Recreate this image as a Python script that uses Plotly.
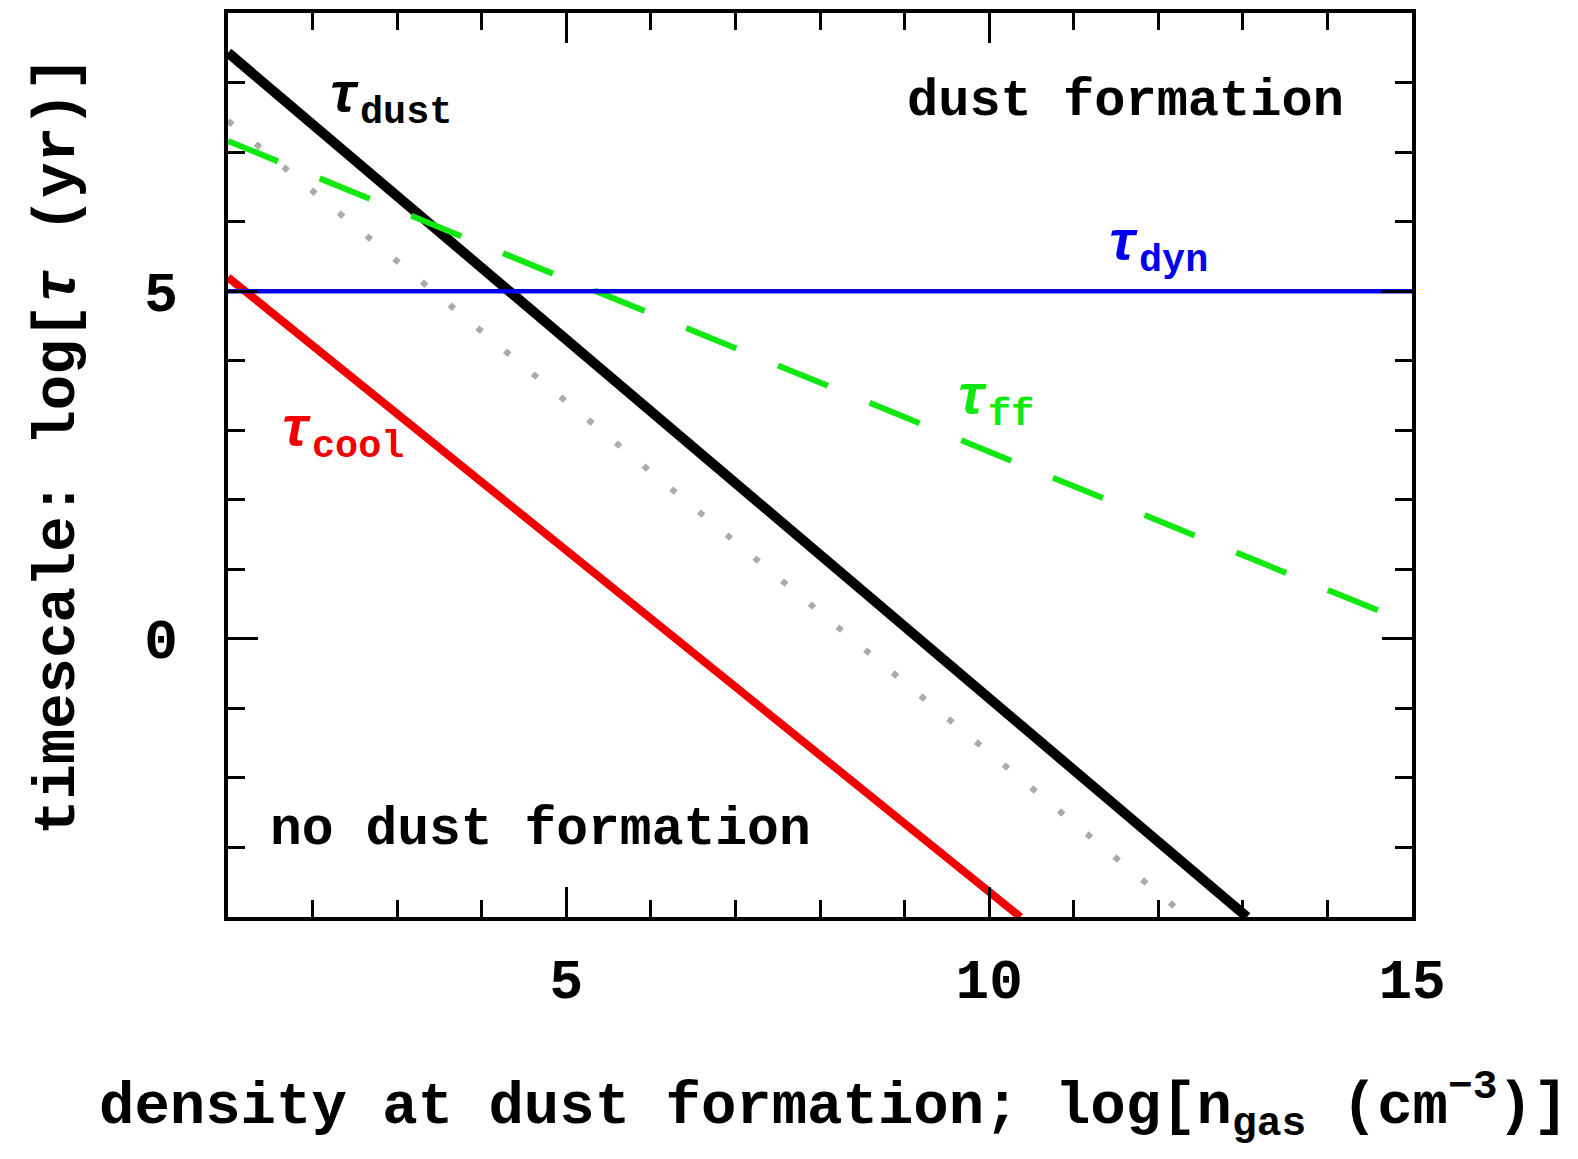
import plotly.graph_objects as go

# endpoints of the straight timescale lines
dens_dust = [1.0, 13.05]
tau_dust = [8.43, -4.0]

dens_cool = [1.0, 10.37]
tau_cool = [5.20, -4.0]

dens_grey = [1.0, 12.34]
tau_grey = [7.45, -4.0]

dens_ff = [1.0, 15.0]
tau_ff = [7.16, 0.21]

dens_dyn = [1.0, 15.0]
tau_dyn = [5.0, 5.0]

FONT = "Liberation Mono"

fig = go.Figure()

fig.add_trace(go.Scatter(x=dens_grey, y=tau_grey, mode="lines",
                         line=dict(color="#aaaaaa", width=6, dash="6px,30px")))
fig.add_trace(go.Scatter(x=dens_dust, y=tau_dust, mode="lines",
                         line=dict(color="black", width=10)))
fig.add_trace(go.Scatter(x=dens_cool, y=tau_cool, mode="lines",
                         line=dict(color="#f00000", width=8)))
fig.add_trace(go.Scatter(x=dens_ff, y=tau_ff, mode="lines",
                         line=dict(color="#11e811", width=6, dash="54px,45px")))
fig.add_trace(go.Scatter(x=dens_dyn, y=tau_dyn, mode="lines",
                         line=dict(color="#0000ee", width=4.5)))

# labels: x, y, text, colour, anchor, size
labels = [
    (11.61, 7.73, "dust formation", "black", "center", 52),
    (4.69, -2.75, "no dust formation", "black", "center", 53),
    (2.15, 7.75, "<i>τ</i><sub>dust</sub>", "black", "left", 55),
    (11.36, 5.62, "<i>τ</i><sub>dyn</sub>", "#0000ee", "left", 55),
    (1.58, 2.95, "<i>τ</i><sub>cool</sub>", "#f00000", "left", 55),
    (9.57, 3.4, "<i>τ</i><sub>ff</sub>", "#11e811", "left", 55),
]
for x, y, txt, col, anc, sz in labels:
    fig.add_annotation(x=x, y=y, text=txt, showarrow=False, xanchor=anc,
                       yanchor="middle",
                       font=dict(family=FONT, size=sz, color=col, weight="bold"))

# axis titles as annotations so they can sit off-centre like the original
fig.add_annotation(x=0.511, y=0, xref="paper", yref="paper", yshift=-188,
                   xanchor="center", yanchor="middle", showarrow=False,
                   text="density at dust formation; log[n<sub>gas</sub> (cm<sup>−3</sup>)]",
                   font=dict(family=FONT, size=59, color="black", weight="bold"))
fig.add_annotation(x=0, y=0.521, xref="paper", yref="paper", xshift=-170,
                   xanchor="center", yanchor="middle", showarrow=False, textangle=-90,
                   text="timescale: log[<i>τ</i> (yr)]",
                   font=dict(family=FONT, size=59, color="black", weight="bold"))

axis_common = dict(
    showline=True, linecolor="black", linewidth=4, mirror="allticks",
    ticks="inside", ticklen=30, tickwidth=3, tickcolor="black",
    showgrid=False, zeroline=False,
    tickfont=dict(family=FONT, size=56, color="black", weight="bold"),
    minor=dict(dtick=1, ticks="inside", ticklen=17, tickwidth=3, tickcolor="black"),
)

fig.update_xaxes(range=[1, 15], tick0=0, dtick=5, ticklabelstandoff=10, **axis_common)
fig.update_yaxes(range=[-4, 9], tick0=0, dtick=5, ticklabelstandoff=35, **axis_common)

# page body has a small margin, so the figure is a bit smaller than the window
fig.update_layout(
    width=1562, height=1143,
    margin=dict(l=220, r=158, t=1, b=234),
    paper_bgcolor="white", plot_bgcolor="white",
    showlegend=False,
)

fig.write_html("out.html")
